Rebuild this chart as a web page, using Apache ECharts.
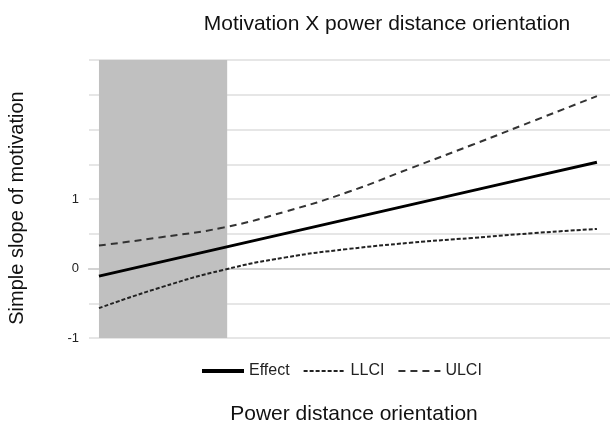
<!DOCTYPE html>
<html>
<head>
<meta charset="utf-8">
<script src="https://cdn.jsdelivr.net/npm/echarts@6/dist/echarts.min.js"></script>
<style>
  html, body { margin: 0; padding: 0; background: #fff; }
  #chart { width: 610px; height: 427px; }
</style>
</head>
<body>
<div id="chart"></div>
<script>
// power distance orientation (x) and the simple slope of motivation
var pdo = [1, 1.5, 2, 2.5, 3, 3.5, 4, 4.5, 5];
var effect = [-0.11, 0.095, 0.30, 0.505, 0.71, 0.915, 1.12, 1.325, 1.53];
var llci = [-0.57, -0.27, -0.02, 0.16, 0.28, 0.37, 0.44, 0.51, 0.57];
var ulci = [0.33, 0.45, 0.59, 0.82, 1.10, 1.44, 1.78, 2.13, 2.48];
// region where the slope is not significant
var shadeFrom = 1, shadeTo = 2.03;
var yTickLabels = ['-1', '0', '1'];

function pairs(ys) {
	return pdo.map(function (x, i) { return [x, ys[i]]; });
}

var font = '"Liberation Sans", Arial, Helvetica, sans-serif';

var option = {
	animation: false,
	textStyle: { fontFamily: font },
	title: {
		text: 'Motivation X power distance orientation',
		left: 382,
		top: 9,
		textAlign: 'center',
		textStyle: { fontSize: 21, fontWeight: 'normal', color: '#111', fontFamily: font }
	},
	legend: {
		left: 200,
		top: 363,
		padding: 0,
		itemWidth: 42,
		itemHeight: 14,
		itemGap: 13,
		textStyle: { fontSize: 16, color: '#222', fontFamily: font },
		itemStyle: { opacity: 0 },
		data: [
			{ name: 'Effect', lineStyle: { width: 4 } },
			{ name: 'LLCI' },
			{ name: 'ULCI' }
		]
	},
	grid: { left: 89, right: 0, top: 60, bottom: 89, containLabel: false, outerBoundsMode: 'none' },
	xAxis: {
		type: 'value',
		min: 0.92,
		max: 5.105,
		name: 'Power distance orientation',
		nameLocation: 'middle',
		nameGap: 66,
		nameTextStyle: { fontSize: 21, color: '#111', fontFamily: font, padding: [0, 0, 0, 9] },
		axisLine: { show: true, onZero: true, lineStyle: { color: '#9a9a9a', width: 1.5 } },
		axisTick: { show: false },
		axisLabel: { show: false },
		splitLine: { show: false }
	},
	yAxis: {
		type: 'value',
		min: -1,
		max: 3,
		interval: 0.5,
		z: 1,
		name: 'Simple slope of motivation',
		nameLocation: 'middle',
		nameGap: 62,
		nameTextStyle: { fontSize: 20, color: '#111', fontFamily: font, padding: [0, 18, 0, 0] },
		axisLine: { show: false },
		axisTick: { show: false },
		axisLabel: {
			margin: 10,
			fontSize: 13,
			color: '#222',
			formatter: function (v) {
				var s = String(v);
				return yTickLabels.indexOf(s) >= 0 ? s : '';
			}
		},
		splitLine: { show: true, lineStyle: { color: '#dedede', width: 1.5 } }
	},
	series: [
		{
			name: 'band',
			type: 'line',
			data: [],
			z: 0,
			markArea: {
				silent: true,
				itemStyle: { color: '#c0c0c0' },
				data: [[{ xAxis: shadeFrom, yAxis: -1 }, { xAxis: shadeTo, yAxis: 3 }]]
			}
		},
		{
			name: 'Effect',
			type: 'line',
			data: pairs(effect),
			symbol: 'none',
			z: 4,
			lineStyle: { color: '#000', width: 3 },
			itemStyle: { color: '#000' }
		},
		{
			name: 'LLCI',
			type: 'line',
			data: pairs(llci),
			symbol: 'none',
			smooth: true,
			z: 4,
			lineStyle: { color: '#222', width: 2, type: [4, 2] },
			itemStyle: { color: '#222' }
		},
		{
			name: 'ULCI',
			type: 'line',
			data: pairs(ulci),
			symbol: 'none',
			smooth: true,
			z: 4,
			lineStyle: { color: '#333', width: 2, type: [7, 5] },
			itemStyle: { color: '#333' }
		}
	]
};

var myChart = echarts.init(document.getElementById('chart'));
myChart.setOption(option);
</script>
</body>
</html>
